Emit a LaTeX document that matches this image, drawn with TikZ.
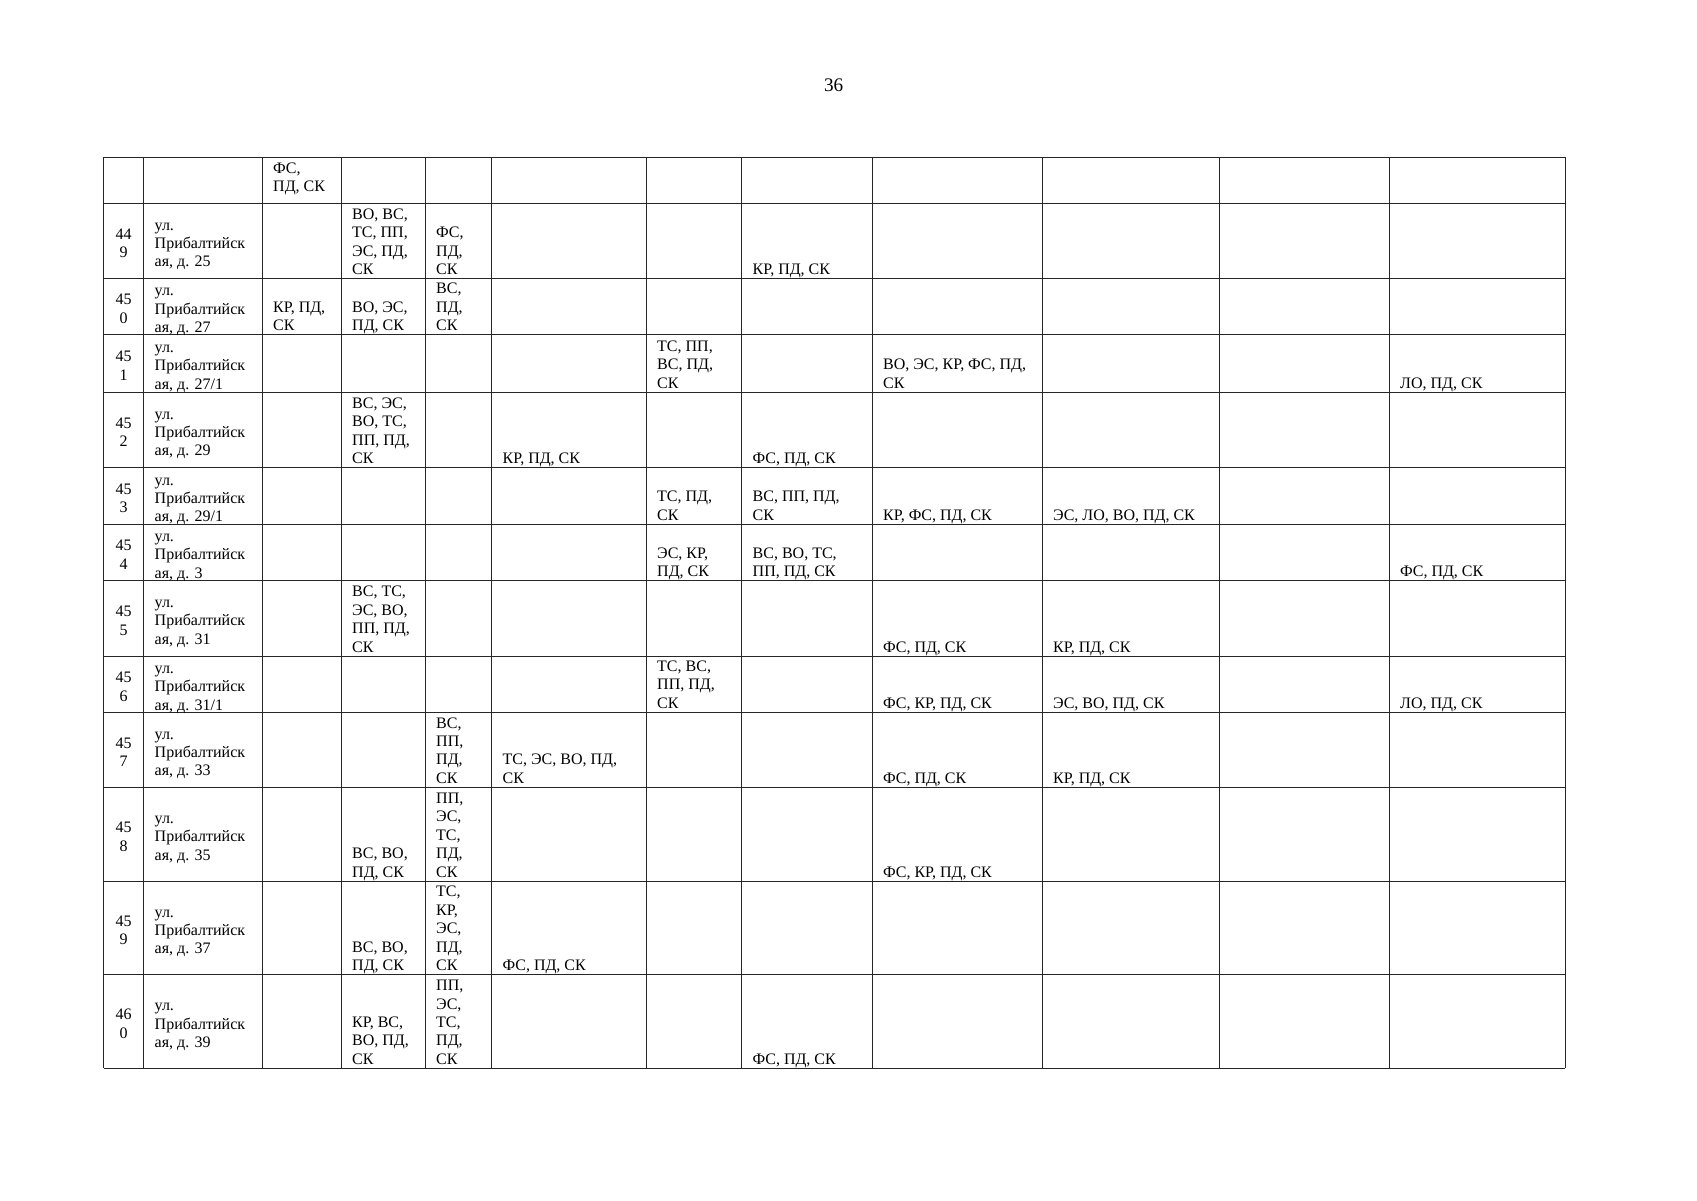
\documentclass[tikz,border=0pt]{standalone}
\usepackage{fontspec}
\setmainfont{Liberation Serif}
\newcommand\tabfont{\fontsize{16}{18.4}\selectfont}
\newcommand\cb[1]{\begin{tabular}[b]{@{}l@{}}#1\end{tabular}}
\newcommand\cc[1]{\begin{tabular}{@{}l@{}}#1\end{tabular}}
\newcommand\cn[1]{\begin{tabular}{@{}c@{}}#1\end{tabular}}
\tikzset{
  gridline/.style={line width=0.9pt, draw=black!85},
  cellb/.style={anchor=base west, inner sep=0pt, font=\tabfont},
  celladdr/.style={anchor=west, inner sep=0pt, font=\tabfont, yshift=-4pt},
  cellnum/.style={anchor=center, inner sep=0pt, font=\tabfont, yshift=-4pt},
  pagenum/.style={anchor=base, inner sep=0pt, font=\fontsize{19.2}{22}\selectfont}
}
\begin{document}
\begin{tikzpicture}[x=1pt,y=-1pt]
\useasboundingbox (0,0) rectangle (1697,1200);
\node[pagenum] (pnum) at (833.7,91.7) {36};
% grid
\foreach \yy in {157,203,278.5,334.5,392,467.5,524,580.5,656,712.3,787.3,881,974.5,1068.3}
  \draw[gridline] (103.5,\yy) -- (1565,\yy);
\foreach \xx in {103.5,143.5,262,341,425,491.5,646,741.5,872,1042,1219,1389,1565}
  \draw[gridline] (\xx,157) -- (\xx,1068.3);
% top row
\node[cellb] (r0c3) at (273,191.7) {\cb{ФС,\\ПД, СК}};
% row 449
\node[cellnum] (r449n) at (123.5,240.75) {\cn{44\\9}};
\node[celladdr] (r449a) at (154.5,240.75) {\cc{ул.\\Прибалтийск\\ая, д. 25}};
\node[cellb] (r449c4) at (352,274.5) {\cb{ВО, ВС,\\ТС, ПП,\\ЭС, ПД,\\СК}};
\node[cellb] (r449c5) at (436,274.5) {\cb{ФС,\\ПД,\\СК}};
\node[cellb] (r449c8) at (752.5,274.5) {\cb{КР, ПД, СК}};
% row 450
\node[cellnum] (r450n) at (123.5,306.5) {\cn{45\\0}};
\node[celladdr] (r450a) at (154.5,306.5) {\cc{ул.\\Прибалтийск\\ая, д. 27}};
\node[cellb] (r450c3) at (273,330.5) {\cb{КР, ПД,\\СК}};
\node[cellb] (r450c4) at (352,330.5) {\cb{ВО, ЭС,\\ПД, СК}};
\node[cellb] (r450c5) at (436,330.5) {\cb{ВС,\\ПД,\\СК}};
% row 451
\node[cellnum] (r451n) at (123.5,363.25) {\cn{45\\1}};
\node[celladdr] (r451a) at (154.5,363.25) {\cc{ул.\\Прибалтийск\\ая, д. 27/1}};
\node[cellb] (r451c7) at (657,388) {\cb{ТС, ПП,\\ВС, ПД,\\СК}};
\node[cellb] (r451c9) at (883,388) {\cb{ВО, ЭС, КР, ФС, ПД,\\СК}};
\node[cellb] (r451c12) at (1400,388) {\cb{ЛО, ПД, СК}};
% row 452
\node[cellnum] (r452n) at (123.5,429.75) {\cn{45\\2}};
\node[celladdr] (r452a) at (154.5,429.75) {\cc{ул.\\Прибалтийск\\ая, д. 29}};
\node[cellb] (r452c4) at (352,463.5) {\cb{ВС, ЭС,\\ВО, ТС,\\ПП, ПД,\\СК}};
\node[cellb] (r452c6) at (502.5,463.5) {\cb{КР, ПД, СК}};
\node[cellb] (r452c8) at (752.5,463.5) {\cb{ФС, ПД, СК}};
% row 453
\node[cellnum] (r453n) at (123.5,495.75) {\cn{45\\3}};
\node[celladdr] (r453a) at (154.5,495.75) {\cc{ул.\\Прибалтийск\\ая, д. 29/1}};
\node[cellb] (r453c7) at (657,520) {\cb{ТС, ПД,\\СК}};
\node[cellb] (r453c8) at (752.5,520) {\cb{ВС, ПП, ПД,\\СК}};
\node[cellb] (r453c9) at (883,520) {\cb{КР, ФС, ПД, СК}};
\node[cellb] (r453c10) at (1053,520) {\cb{ЭС, ЛО, ВО, ПД, СК}};
% row 454
\node[cellnum] (r454n) at (123.5,552.25) {\cn{45\\4}};
\node[celladdr] (r454a) at (154.5,552.25) {\cc{ул.\\Прибалтийск\\ая, д. 3}};
\node[cellb] (r454c7) at (657,576.5) {\cb{ЭС, КР,\\ПД, СК}};
\node[cellb] (r454c8) at (752.5,576.5) {\cb{ВС, ВО, ТС,\\ПП, ПД, СК}};
\node[cellb] (r454c12) at (1400,576.5) {\cb{ФС, ПД, СК}};
% row 455
\node[cellnum] (r455n) at (123.5,618.25) {\cn{45\\5}};
\node[celladdr] (r455a) at (154.5,618.25) {\cc{ул.\\Прибалтийск\\ая, д. 31}};
\node[cellb] (r455c4) at (352,652) {\cb{ВС, ТС,\\ЭС, ВО,\\ПП, ПД,\\СК}};
\node[cellb] (r455c9) at (883,652) {\cb{ФС, ПД, СК}};
\node[cellb] (r455c10) at (1053,652) {\cb{КР, ПД, СК}};
% row 456
\node[cellnum] (r456n) at (123.5,684.15) {\cn{45\\6}};
\node[celladdr] (r456a) at (154.5,684.15) {\cc{ул.\\Прибалтийск\\ая, д. 31/1}};
\node[cellb] (r456c7) at (657,708.3) {\cb{ТС, ВС,\\ПП, ПД,\\СК}};
\node[cellb] (r456c9) at (883,708.3) {\cb{ФС, КР, ПД, СК}};
\node[cellb] (r456c10) at (1053,708.3) {\cb{ЭС, ВО, ПД, СК}};
\node[cellb] (r456c12) at (1400,708.3) {\cb{ЛО, ПД, СК}};
% row 457
\node[cellnum] (r457n) at (123.5,749.8) {\cn{45\\7}};
\node[celladdr] (r457a) at (154.5,749.8) {\cc{ул.\\Прибалтийск\\ая, д. 33}};
\node[cellb] (r457c5) at (436,783.3) {\cb{ВС,\\ПП,\\ПД,\\СК}};
\node[cellb] (r457c6) at (502.5,783.3) {\cb{ТС, ЭС, ВО, ПД,\\СК}};
\node[cellb] (r457c9) at (883,783.3) {\cb{ФС, ПД, СК}};
\node[cellb] (r457c10) at (1053,783.3) {\cb{КР, ПД, СК}};
% row 458
\node[cellnum] (r458n) at (123.5,834.15) {\cn{45\\8}};
\node[celladdr] (r458a) at (154.5,834.15) {\cc{ул.\\Прибалтийск\\ая, д. 35}};
\node[cellb] (r458c4) at (352,877) {\cb{ВС, ВО,\\ПД, СК}};
\node[cellb] (r458c5) at (436,877) {\cb{ПП,\\ЭС,\\ТС,\\ПД,\\СК}};
\node[cellb] (r458c9) at (883,877) {\cb{ФС, КР, ПД, СК}};
% row 459
\node[cellnum] (r459n) at (123.5,927.75) {\cn{45\\9}};
\node[celladdr] (r459a) at (154.5,927.75) {\cc{ул.\\Прибалтийск\\ая, д. 37}};
\node[cellb] (r459c4) at (352,970.5) {\cb{ВС, ВО,\\ПД, СК}};
\node[cellb] (r459c5) at (436,970.5) {\cb{ТС,\\КР,\\ЭС,\\ПД,\\СК}};
\node[cellb] (r459c6) at (502.5,970.5) {\cb{ФС, ПД, СК}};
% row 460
\node[cellnum] (r460n) at (123.5,1021.4) {\cn{46\\0}};
\node[celladdr] (r460a) at (154.5,1021.4) {\cc{ул.\\Прибалтийск\\ая, д. 39}};
\node[cellb] (r460c4) at (352,1064.3) {\cb{КР, ВС,\\ВО, ПД,\\СК}};
\node[cellb] (r460c5) at (436,1064.3) {\cb{ПП,\\ЭС,\\ТС,\\ПД,\\СК}};
\node[cellb] (r460c8) at (752.5,1064.3) {\cb{ФС, ПД, СК}};
\end{tikzpicture}
\end{document}
